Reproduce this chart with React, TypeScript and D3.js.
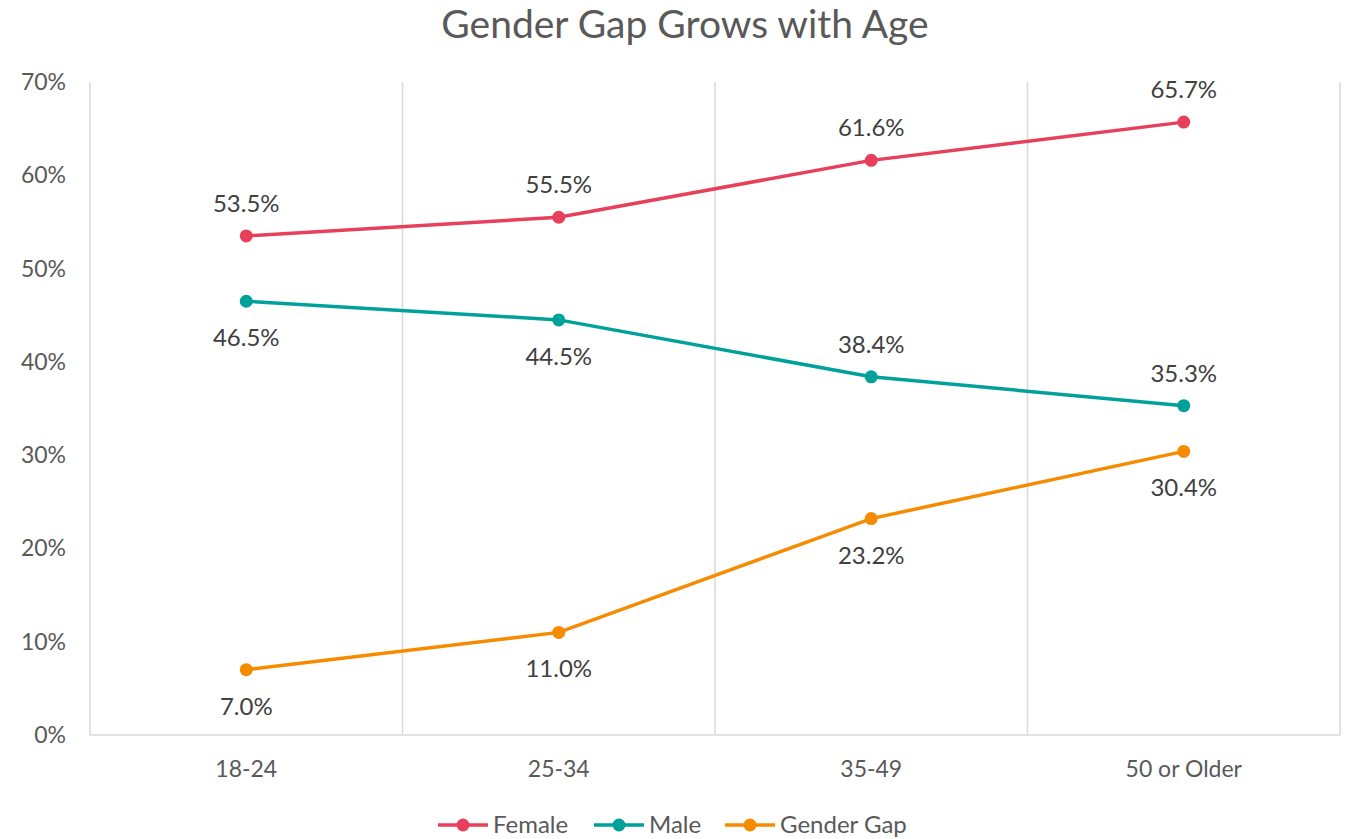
import { useEffect, useRef } from 'react'
import * as d3 from 'd3'

const categories = ['18-24', '25-34', '35-49', '50 or Older']
const female = [53.5, 55.5, 61.6, 65.7]
const male = [46.5, 44.5, 38.4, 35.3]
const gap = [7.0, 11.0, 23.2, 30.4]
const yTicks = [0, 10, 20, 30, 40, 50, 60, 70]

// label position per point: 'above' or 'below'
const series = [
  { name: 'Female', color: '#E8405A', values: female, pos: ['above', 'above', 'above', 'above'] },
  { name: 'Male', color: '#00A19A', values: male, pos: ['below', 'below', 'above', 'above'] },
  { name: 'Gender Gap', color: '#F78B00', values: gap, pos: ['below', 'below', 'below', 'below'] },
]

const FONT = 'Lato, "Open Sans", sans-serif'

export default function App() {
  const svgRef = useRef<SVGSVGElement>(null)

  useEffect(() => {
    const el = svgRef.current
    if (!el) return
    const svg = d3.select(el)
    svg.selectAll('*').remove()

    const left = 90, right = 1340, top = 82, bottom = 735

    const x = d3.scaleBand().domain(categories).range([left, right])
    const y = d3.scaleLinear().domain([0, 70]).range([bottom, top])

    // title
    svg.append('text')
      .attr('x', 685).attr('y', 38)
      .attr('text-anchor', 'middle')
      .attr('fill', '#595959')
      .attr('font-size', 39)
      .attr('font-family', FONT)
      .text('Gender Gap Grows with Age')

    // vertical gridlines at category boundaries
    const bounds = categories.map(c => x(c)! + x.bandwidth())
    svg.append('g').selectAll('line')
      .data(bounds)
      .enter().append('line')
      .attr('x1', d => d).attr('x2', d => d)
      .attr('y1', top).attr('y2', bottom)
      .attr('stroke', '#d9d9d9').attr('stroke-width', 1.5)

    // axes lines
    svg.append('line')
      .attr('x1', left).attr('x2', left).attr('y1', top).attr('y2', bottom)
      .attr('stroke', '#d9d9d9').attr('stroke-width', 1.5)
    svg.append('line')
      .attr('x1', left).attr('x2', right).attr('y1', bottom).attr('y2', bottom)
      .attr('stroke', '#d9d9d9').attr('stroke-width', 1.5)

    // y tick labels
    svg.append('g').selectAll('text')
      .data(yTicks)
      .enter().append('text')
      .attr('x', 66).attr('y', d => y(d))
      .attr('dy', '0.35em')
      .attr('text-anchor', 'end')
      .attr('fill', '#595959')
      .attr('font-size', 23)
      .attr('font-family', FONT)
      .text(d => `${d}%`)

    // x labels
    svg.append('g').selectAll('text')
      .data(categories)
      .enter().append('text')
      .attr('x', d => x(d)! + x.bandwidth() / 2)
      .attr('y', 777)
      .attr('text-anchor', 'middle')
      .attr('fill', '#595959')
      .attr('font-size', 23)
      .attr('font-family', FONT)
      .text(d => d)

    const cx = (i: number) => x(categories[i])! + x.bandwidth() / 2
    const line = d3.line<number>().x((_, i) => cx(i)).y(d => y(d))

    series.forEach(s => {
      const g = svg.append('g')
      g.append('path')
        .attr('d', line(s.values)!)
        .attr('fill', 'none')
        .attr('stroke', s.color)
        .attr('stroke-width', 3.5)
        .attr('stroke-linecap', 'round')
      g.selectAll('circle')
        .data(s.values)
        .enter().append('circle')
        .attr('cx', (_, i) => cx(i))
        .attr('cy', d => y(d))
        .attr('r', 6.5)
        .attr('fill', s.color)
      g.selectAll('text')
        .data(s.values)
        .enter().append('text')
        .attr('x', (_, i) => cx(i))
        .attr('y', (d, i) => y(d) + (s.pos[i] === 'above' ? -24 : 45))
        .attr('text-anchor', 'middle')
        .attr('fill', '#404040')
        .attr('font-size', 24)
        .attr('font-family', FONT)
        .text(d => `${d.toFixed(1)}%`)
    })

    // legend
    const legendItems = [
      { s: series[0], x0: 438 },
      { s: series[1], x0: 594 },
      { s: series[2], x0: 725 },
    ]
    const ly = 825
    legendItems.forEach(({ s, x0 }) => {
      svg.append('line')
        .attr('x1', x0).attr('x2', x0 + 50).attr('y1', ly).attr('y2', ly)
        .attr('stroke', s.color).attr('stroke-width', 3.5)
      svg.append('circle')
        .attr('cx', x0 + 25).attr('cy', ly).attr('r', 6.5).attr('fill', s.color)
      svg.append('text')
        .attr('x', x0 + 55).attr('y', ly).attr('dy', '0.35em')
        .attr('fill', '#595959')
        .attr('font-size', 24)
        .attr('font-family', FONT)
        .text(s.name)
    })
  }, [])

  return (
    <svg ref={svgRef} width={1345} height={839}
      style={{ position: 'absolute', left: 0, top: 0, background: '#fff' }} />
  )
}
